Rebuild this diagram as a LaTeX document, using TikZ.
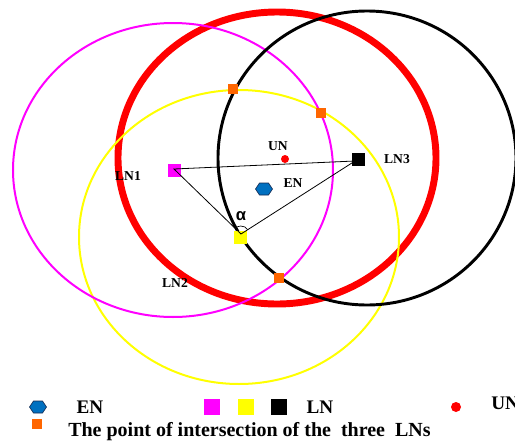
\documentclass[tikz,border=0pt]{standalone}
\usepackage{fontspec}
\setmainfont{Liberation Serif}
\newfontfamily\alphafont{Liberation Sans}
\definecolor{mag}{RGB}{255,0,255}
\definecolor{yel}{RGB}{255,255,0}
\definecolor{rd}{RGB}{255,0,0}
\definecolor{orng}{RGB}{255,102,0}
\definecolor{enblue}{RGB}{0,112,192}
\definecolor{enedge}{RGB}{20,40,80}
\begin{document}
\begin{tikzpicture}[x=0.75pt,y=-0.75pt,
  lbl/.style={font=\fontsize{10.2}{12}\selectfont\bfseries, inner sep=0pt},
  leglbl/.style={font=\fontsize{14.4}{16}\selectfont\bfseries, inner sep=0pt},
  lnsq/.style={minimum size=13*0.75pt, inner sep=0pt, draw=none},
  legsq/.style={minimum size=15.5*0.75pt, inner sep=0pt, draw=none},
  ipt/.style={fill=orng, minimum size=10*0.75pt, inner sep=0pt, draw=none},
  hexen/.style={fill=enblue, draw=enedge, line width=0.5pt},
  undot/.style={circle, fill=rd, minimum size=8*0.75pt, inner sep=0pt, draw=none}
]
\useasboundingbox (0,0) rectangle (515,443);
% circles
\draw[rd, line width=5.2pt] (277,158) ellipse [x radius=159, y radius=146];
\draw[yel, line width=1.5pt] (239,237) ellipse [x radius=160, y radius=147];
\draw[mag, line width=1.5pt] (173,170) ellipse [x radius=160, y radius=147];
\draw[black, line width=2.2pt] (367,158) ellipse [x radius=149, y radius=147];
% LN squares
\node[lnsq, fill=mag] (ln1) at (174,170) {};
\node[lnsq, fill=yel] (ln2) at (240,237) {};
\node[lnsq, fill=black] (ln3) at (358,159) {};
\coordinate (a1) at (174,169);
\coordinate (a2) at (241,234);
\coordinate (a3) at (355,161);
\draw[line width=0.6pt] (a1) -- (a3) -- (a2) -- cycle;
\draw[line width=0.5pt] (a2) ++(32:8*0.75pt) arc[start angle=32, end angle=136, radius=8*0.75pt];
\node[font=\alphafont\fontsize{12.5}{14}\selectfont\bfseries, inner sep=0pt] (alpha) at (241,216) {α};
% labels
\node[lbl] (ln1l) at (128,176) {LN1};
\node[lbl] (ln2l) at (175,283) {LN2};
\node[lbl] (ln3l) at (397,159) {LN3};
\node[undot] (un) at (285,159) {};
\node[lbl] (unl) at (278,146) {UN};
\coordinate (en) at (264,189);
\draw[hexen] (en) ++(-8.5,0) -- ++(4,-6) -- ++(9,0) -- ++(4,6) -- ++(-4,6) -- ++(-9,0) -- cycle;
\node[lbl] (enl) at (293,183) {EN};
% intersection points
\node[ipt] (p1) at (233,89) {};
\node[ipt] (p2) at (321,113) {};
\node[ipt] (p3) at (279,278) {};
% legend
\coordinate (legen) at (38,407);
\draw[hexen] (legen) ++(-8.5,0) -- ++(4,-6) -- ++(9,0) -- ++(4,6) -- ++(-4,6) -- ++(-9,0) -- cycle;
\node[leglbl] (legenl) at (90,407) {EN};
\node[legsq, fill=mag] (legm) at (212,407) {};
\node[legsq, fill=yel] (legy) at (246,407) {};
\node[legsq, fill=black] (legb) at (279,407) {};
\node[leglbl] (leglnl) at (320,407) {LN};
\node[undot, minimum size=10*0.75pt] (legun) at (456,407) {};
\node[leglbl, anchor=west] (legunl) at (491,403) {UN};
\node[ipt] (legp) at (37,424) {};
\node[leglbl, font=\fontsize{15}{17}\selectfont\bfseries, anchor=west] (legpl) at (68,432) {The point of intersection of the~ three~ LNs};
\end{tikzpicture}
\end{document}
